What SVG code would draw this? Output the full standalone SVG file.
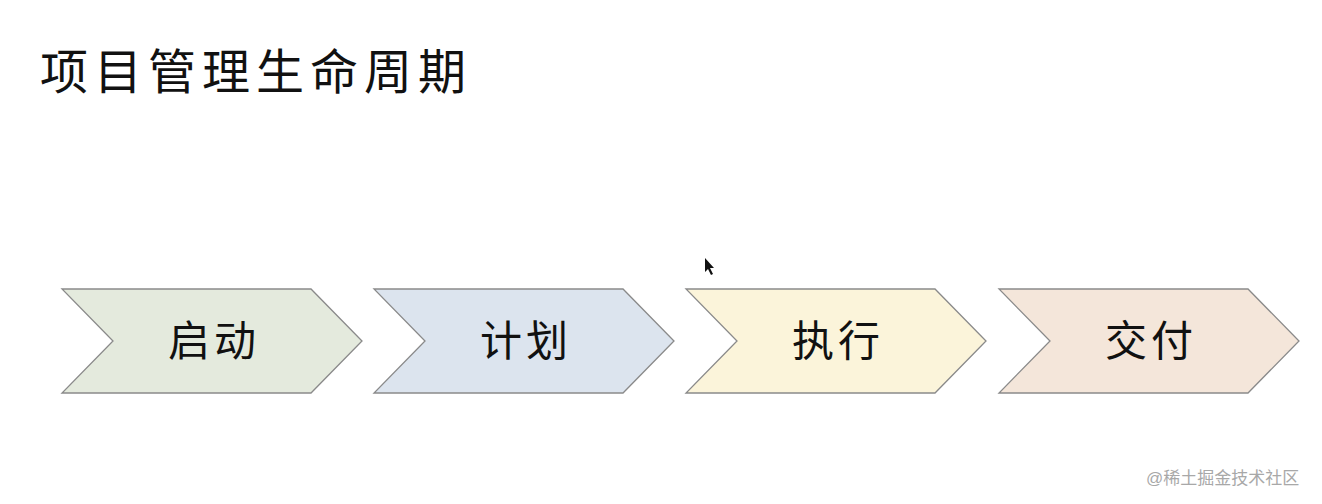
<svg xmlns="http://www.w3.org/2000/svg" width="1322" height="504" viewBox="0 0 1322 504">
<style>
.title{font-family:"Liberation Sans","Noto Sans CJK SC",sans-serif;font-size:48px;fill:#111;letter-spacing:6px}
.lbl{font-family:"Liberation Sans","Noto Sans CJK SC",sans-serif;font-size:42px;fill:#111;text-anchor:middle;letter-spacing:4px}
.chev{stroke:#8a8a8a;stroke-width:1.3}
.wm{font-family:"Liberation Sans","Noto Sans CJK SC",sans-serif;font-size:17px;fill:#a8a8a8}
</style>
<defs>
<path id="chev" d="M0,0 L249,0 L300,52 L249,104 L0,104 L51,52 Z"/>
</defs>
<rect width="1322" height="504" fill="#ffffff"/>
<text class="title" x="40" y="89">项目管理生命周期</text>
<g id="connectors"></g>
<g id="n1">
<use href="#chev" x="62" y="289" fill="#e4eadd" class="chev"/>
<text class="lbl" x="214" y="356">启动</text>
</g>
<g id="n2">
<use href="#chev" x="374" y="289" fill="#dce4ee" class="chev"/>
<text class="lbl" x="526" y="356">计划</text>
</g>
<g id="n3">
<use href="#chev" x="686" y="289" fill="#fbf4da" class="chev"/>
<text class="lbl" x="838" y="356">执行</text>
</g>
<g id="n4">
<use href="#chev" x="999" y="289" fill="#f4e6da" class="chev"/>
<text class="lbl" x="1151" y="356">交付</text>
</g>
<path d="M705,258 L705,272 L708,269 L711,275 L713,274 L710,268 L714,268 Z" fill="#111"/>
<text class="wm" x="1146" y="484">@稀土掘金技术社区</text>
</svg>
